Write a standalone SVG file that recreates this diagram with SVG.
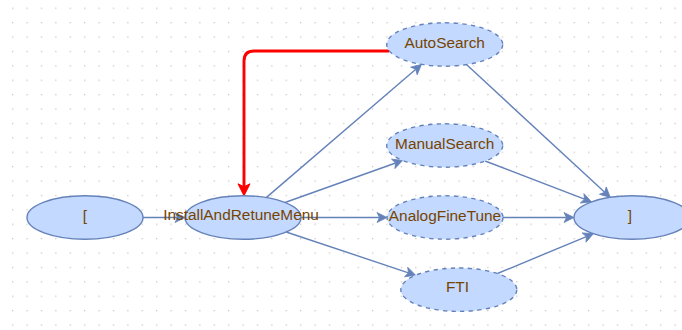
<svg xmlns="http://www.w3.org/2000/svg" width="682" height="330" viewBox="0 0 682 330">
  <style>
    .node { fill: #C3D9FF; stroke: #6482B9; stroke-width: 1.4; }
    .dashed { stroke-dasharray: 4.3 4.3; }
    .label { font-family: "Liberation Sans", Arial, sans-serif; font-size: 15.4px; fill: #774400; text-anchor: middle; }
    .edge { fill: none; stroke: #6482B9; stroke-width: 1.4; marker-end: url(#arrowBlue); }
    .hot { fill: none; stroke: #FF0000; stroke-width: 2.9; marker-end: url(#arrowRed); }
  </style>
  <defs>
    <pattern id="grid" patternUnits="userSpaceOnUse" x="12" y="7.6" width="14.4" height="14.4">
      <rect x="0" y="0" width="1.3" height="1.3" fill="#C8C8C8"/>
    </pattern>
    <!-- classic notched arrowheads; reference point sits at the notch -->
    <marker id="arrowBlue" markerUnits="userSpaceOnUse" viewBox="0 -5 10 10" markerWidth="10" markerHeight="10" refX="2.5" refY="0" orient="auto" overflow="visible">
      <path d="M0,-5 L10,0 L0,5 L2.5,0 Z" fill="#6482B9" stroke="#6482B9" stroke-width="0.8" stroke-linejoin="miter"/>
    </marker>
    <marker id="arrowRed" markerUnits="userSpaceOnUse" viewBox="0 -6 12 12" markerWidth="12" markerHeight="12" refX="3" refY="0" orient="auto" overflow="visible">
      <path d="M0,-6 L12,0 L0,6 L3,0 Z" fill="#FF0000" stroke="#FF0000" stroke-width="1"/>
    </marker>
  </defs>

  <rect width="682" height="330" fill="#FFFFFF"/>
  <rect width="682" height="330" fill="url(#grid)"/>

  <g id="connectors">
    <path class="edge" d="M143,217.5 L177.5,217.5"/>
    <path class="edge" d="M266.2,197.6 L415.8,69.3"/>
    <path class="edge" d="M285,202.5 L395.6,163"/>
    <path class="edge" d="M301,217.5 L379.5,217.5"/>
    <path class="edge" d="M286.2,232 L408.5,272.8"/>
    <path class="edge" d="M466.5,64.6 L604.7,192.3"/>
    <path class="edge" d="M485.1,161 L584.5,199.2"/>
    <path class="edge" d="M503,217.5 L566.5,217.5"/>
    <path class="edge" d="M497.5,273.5 L586.4,236.6"/>
    <path class="hot" d="M389.3,51 L254,51 Q244,51 244,61 L244,186.8"/>
  </g>

  <g id="node-start">
    <ellipse class="node" cx="85" cy="217.5" rx="58" ry="21.7"/>
    <text class="label" x="85" y="220.5">[</text>
  </g>
  <g id="node-install">
    <ellipse class="node" cx="243" cy="217.5" rx="58" ry="21.7"/>
    <text class="label" x="241" y="220.3">InstallAndRetuneMenu</text>
  </g>
  <g id="node-autosearch">
    <ellipse class="node dashed" cx="444.7" cy="44.5" rx="58" ry="21.7"/>
    <text class="label" x="444.7" y="47.6">AutoSearch</text>
  </g>
  <g id="node-manualsearch">
    <ellipse class="node dashed" cx="444.7" cy="145.5" rx="58" ry="21.7"/>
    <text class="label" x="444.7" y="148.5">ManualSearch</text>
  </g>
  <g id="node-analogfinetune">
    <ellipse class="node dashed" cx="445" cy="217.5" rx="58" ry="21.7"/>
    <text class="label" x="445" y="220.5">AnalogFineTune</text>
  </g>
  <g id="node-fti">
    <ellipse class="node dashed" cx="458.8" cy="289.7" rx="58" ry="21.7"/>
    <text class="label" x="457.5" y="292.3">FTI</text>
  </g>
  <g id="node-end">
    <ellipse class="node" cx="632" cy="217.5" rx="58" ry="21.7"/>
    <text class="label" x="630" y="220.5">]</text>
  </g>
</svg>
